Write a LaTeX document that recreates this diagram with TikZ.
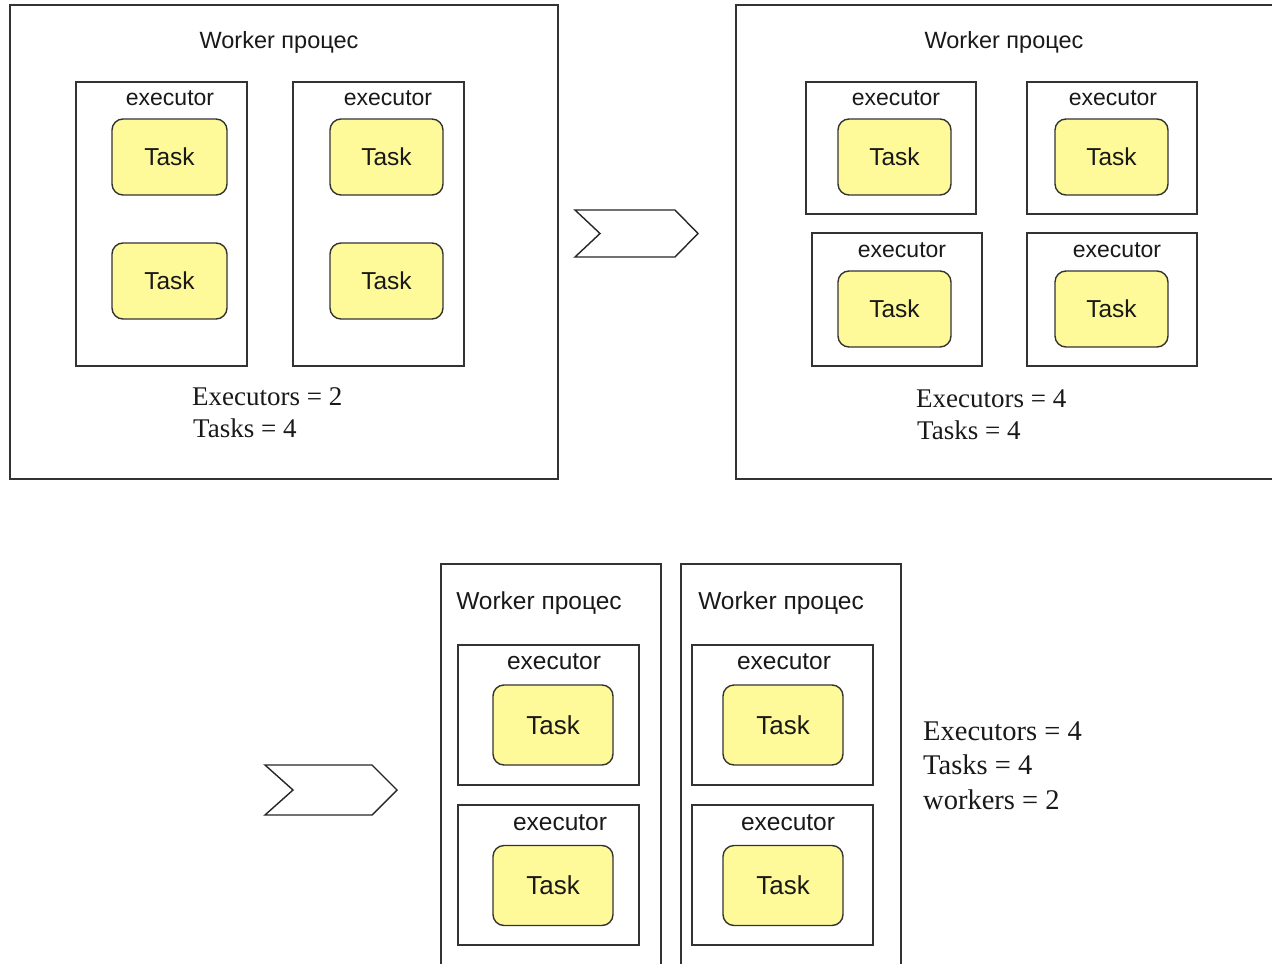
\documentclass[tikz,border=0pt]{standalone}
\usepackage{fontspec}
\setmainfont{Liberation Serif}
\newfontfamily\uisans{Liberation Sans}
\begin{document}
\begin{tikzpicture}[x=1pt,y=-1pt,
  frame/.style={draw=black!80, line width=1.4pt, fill=white, inner sep=0pt},
  taskbox/.style={draw=black!80, line width=1.4pt, fill=yellow!40, rounded corners=11pt,
    inner sep=0pt, minimum width=#1, font=\uisans\fontsize{25}{28}\selectfont, text=black!90},
  taskbox/.default=115pt,
  caption/.style={anchor=base, inner sep=0pt, font=\uisans\fontsize{23}{26}\selectfont, text=black!90},
  bigcaption/.style={caption, font=\uisans\fontsize{24.5}{28}\selectfont},
  stats/.style={anchor=base west, inner sep=0pt, font=\fontsize{27}{32}\selectfont, text=black!90},
  bigstats/.style={stats, font=\fontsize{28.5}{32}\selectfont},
  chevron/.style={draw=black!85, line width=1.4pt, fill=white, line join=miter}]
\clip (0,0) rectangle (1272,964);
\fill[white] (0,0) rectangle (1272,964);

% ---------- left worker: 2 executors x 2 tasks ----------
\node[frame, minimum width=548pt, minimum height=474pt] (wA) at (284,242) {};
\node[caption, font=\uisans\fontsize{23.5}{26}\selectfont] (wAt) at (279,48) {Worker процес};
\node[frame, minimum width=171pt, minimum height=284pt] (eA1) at (161.5,224) {};
\node[frame, minimum width=171pt, minimum height=284pt] (eA2) at (378.5,224) {};
\node[caption] (eA1t) at (170,105) {executor};
\node[caption] (eA2t) at (388,105) {executor};
\node[taskbox, minimum height=76pt, font=\uisans\fontsize{24.5}{28}\selectfont] (tA1) at (169.5,157) {Task};
\node[taskbox, minimum height=76pt, font=\uisans\fontsize{24.5}{28}\selectfont] (tA2) at (169.5,281) {Task};
\node[taskbox=113pt, minimum height=76pt, font=\uisans\fontsize{24.5}{28}\selectfont] (tA3) at (386.5,157) {Task};
\node[taskbox=113pt, minimum height=76pt, font=\uisans\fontsize{24.5}{28}\selectfont] (tA4) at (386.5,281) {Task};
\node[stats] (sA1) at (192,405) {Executors = 2};
\node[stats] (sA2) at (193,437) {Tasks = 4};

% ---------- chevron ----------
\draw[chevron] (575,210) -- (675,210) -- (698,233.5) -- (675,257) -- (575,257) -- (600,233.5) -- cycle;

% ---------- right worker: 4 executors x 1 task ----------
\node[frame, minimum width=556pt, minimum height=474pt] (wB) at (1014,242) {};
\node[caption, font=\uisans\fontsize{23.5}{26}\selectfont] (wBt) at (1004,48) {Worker процес};
\node[frame, minimum width=170pt, minimum height=132pt] (eB1) at (891,148) {};
\node[frame, minimum width=170pt, minimum height=132pt] (eB2) at (1112,148) {};
\node[frame, minimum width=170pt, minimum height=133pt] (eB3) at (897,299.5) {};
\node[frame, minimum width=170pt, minimum height=133pt] (eB4) at (1112,299.5) {};
\node[caption] (eB1t) at (896,105) {executor};
\node[caption] (eB2t) at (1113,105) {executor};
\node[caption] (eB3t) at (902,257) {executor};
\node[caption] (eB4t) at (1117,257) {executor};
\node[taskbox=113pt, minimum height=76pt, font=\uisans\fontsize{24.5}{28}\selectfont] (tB1) at (894.5,157) {Task};
\node[taskbox=113pt, minimum height=76pt, font=\uisans\fontsize{24.5}{28}\selectfont] (tB2) at (1111.5,157) {Task};
\node[taskbox=113pt, minimum height=76pt, font=\uisans\fontsize{24.5}{28}\selectfont] (tB3) at (894.5,309) {Task};
\node[taskbox=113pt, minimum height=76pt, font=\uisans\fontsize{24.5}{28}\selectfont] (tB4) at (1111.5,309) {Task};
\node[stats] (sB1) at (916,407) {Executors = 4};
\node[stats] (sB2) at (917,439) {Tasks = 4};

% ---------- chevron ----------
\draw[chevron] (265,765) -- (372,765) -- (397,790) -- (372,815) -- (265,815) -- (293,790) -- cycle;

% ---------- two workers: 2 executors each ----------
\node[frame, minimum width=220pt, minimum height=426pt] (wC) at (551,777) {};
\node[frame, minimum width=220pt, minimum height=426pt] (wD) at (791,777) {};
\node[bigcaption] (wCt) at (539,609) {Worker процес};
\node[bigcaption] (wDt) at (781,609) {Worker процес};
\node[frame, minimum width=181pt, minimum height=140pt] (eC1) at (548.5,715) {};
\node[frame, minimum width=181pt, minimum height=140pt] (eC2) at (548.5,875) {};
\node[frame, minimum width=181pt, minimum height=140pt] (eD1) at (782.5,715) {};
\node[frame, minimum width=181pt, minimum height=140pt] (eD2) at (782.5,875) {};
\node[bigcaption] (eC1t) at (554,669) {executor};
\node[bigcaption] (eC2t) at (560,830) {executor};
\node[bigcaption] (eD1t) at (784,669) {executor};
\node[bigcaption] (eD2t) at (788,830) {executor};
\node[taskbox=120pt, minimum height=80pt, font=\uisans\fontsize{26}{28}\selectfont] (tC1) at (553,725) {Task};
\node[taskbox=120pt, minimum height=80pt, font=\uisans\fontsize{26}{28}\selectfont] (tC2) at (553,885.5) {Task};
\node[taskbox=120pt, minimum height=80pt, font=\uisans\fontsize{26}{28}\selectfont] (tD1) at (783,725) {Task};
\node[taskbox=120pt, minimum height=80pt, font=\uisans\fontsize{26}{28}\selectfont] (tD2) at (783,885.5) {Task};
\node[bigstats] (sC1) at (923,740) {Executors = 4};
\node[bigstats] (sC2) at (923,774) {Tasks = 4};
\node[bigstats] (sC3) at (923,809) {workers = 2};
\end{tikzpicture}
\end{document}
